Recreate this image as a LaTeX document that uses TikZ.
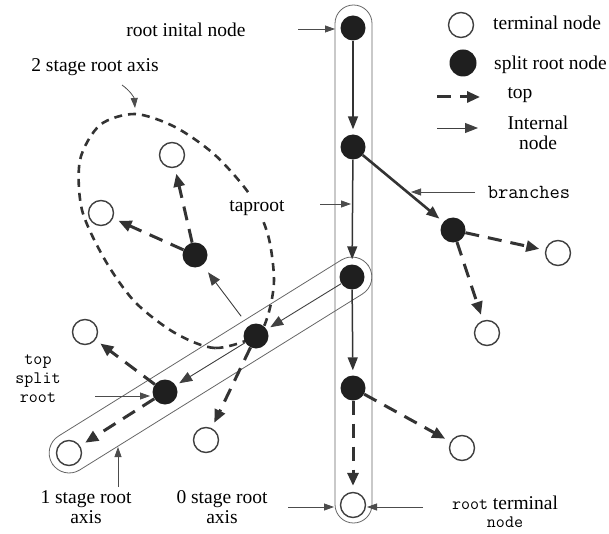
\documentclass[tikz,border=0pt]{standalone}
\usepackage{fontspec}
\setmainfont{Liberation Serif}
\usetikzlibrary{arrows.meta}
\newcommand{\lblfont}{\fontsize{19.5}{20}\selectfont}
\newcommand{\monofont}{\fontsize{17.5}{19}\selectfont\ttfamily}
\begin{document}
\begin{tikzpicture}[x=1pt,y=-1pt]

    \tikzset{
      split/.style={
        circle,
        fill=black!88,
        inner sep=0pt,
        minimum size=25pt,
      },
      terminal/.style={
        circle,
        draw=black!75,
        line width=1.4pt,
        fill=white,
        inner sep=0pt,
        minimum size=25pt,
      },
      capsule/.style={
        draw=black!60,
        line width=0.8pt,
        inner sep=0pt,
      },
      toparrow/.style={
        draw=black!80,
        line width=3pt,
        dash pattern=on 14pt off 9pt,
        -{Triangle[length=13pt,width=11pt]},
        shorten >=6pt,
      },
      axisarrow/.style={
        draw=black!80,
        line width=1.5pt,
        -{Triangle[length=13pt,width=10pt]},
        shorten >=5pt,
      },
      internal/.style={
        draw=black!75,
        line width=0.9pt,
        -{Triangle[length=13pt,width=10pt]},
        shorten >=4pt,
      },
      pointer/.style={
        draw=black!70,
        line width=0.8pt,
        -{Triangle[length=10pt,width=7pt]},
      },
      lbl/.style={font=\lblfont, align=center, inner sep=1pt},
      mlbl/.style={font=\monofont, align=center, inner sep=1pt},
    }
    \useasboundingbox (0,0) rectangle (609,534);

    % the two root axes
    \node[capsule, rounded corners=18.5pt, minimum width=37pt, minimum height=518pt] (axiszero) at (353.5,264) {};
    \node[capsule, rounded corners=20pt, minimum width=373pt, minimum height=40pt, rotate=31.9] (axisone) at (210.5,365) {};

    % 2 stage root axis
    \draw[draw=black!80, line width=2.6pt, dash pattern=on 8pt off 6pt]
      plot[smooth cycle] coordinates {(256,336) (215,348) (175,333) (135,302) (105,260) (82,210)
        (80,160) (100,125) (135,114) (175,127) (215,155) (250,195) (268,235) (274,280) (268,315)};

    % nodes
    \node[split] (n1) at (353,28) {};
    \node[split] (n2) at (353,147) {};
    \node[split] (n3) at (352,277) {};
    \node[split] (n4) at (353,388) {};
    \node[terminal] (n5) at (353,505) {};
    \node[split] (b1) at (453,230) {};
    \node[terminal] (tb1) at (558,253) {};
    \node[terminal] (tb2) at (487,333) {};
    \node[terminal] (t4) at (462,448) {};
    \node[split] (s1) at (256,336) {};
    \node[split] (s2) at (165,392) {};
    \node[terminal] (t1) at (69,453) {};
    \node[terminal] (ts1) at (206,440) {};
    \node[terminal] (ts2) at (85,332) {};
    \node[split] (r) at (195,255) {};
    \node[terminal] (tr1) at (172,155) {};
    \node[terminal] (tr2) at (101,213) {};

    % connections
    \draw[axisarrow] (n1) -- (n2);
    \draw[axisarrow] (n2) -- (n3);
    \draw[axisarrow] (n3) -- (n4);
    \draw[axisarrow, line width=2.6pt] (n2) -- (b1);
    \draw[toparrow] (n4) -- (n5);
    \draw[toparrow] (n4) -- (t4);
    \draw[toparrow] (b1) -- (tb1);
    \draw[toparrow] (b1) -- (tb2);
    \draw[internal] (n3) -- (s1);
    \draw[internal] (s1) -- (s2);
    \draw[internal, shorten <=12pt, shorten >=9pt] (s1) -- (r);
    \draw[toparrow] (s2) -- (t1);
    \draw[toparrow] (s2) -- (ts2);
    \draw[toparrow] (s1) -- (ts1);
    \draw[toparrow] (r) -- (tr1);
    \draw[toparrow] (r) -- (tr2);

    % labels
    \node[lbl] (rootinit) at (186,30) {root inital node};
    \node[lbl] (stagetwo) at (95,67) {2 stage root axis};
    \node[lbl, fill=white, inner sep=4pt] (taproot) at (257,208) {taproot};
    \node[lbl] (stageone) at (86,507) {1 stage root\\axis};
    \node[lbl] (stagezero) at (222,507) {0 stage root\\axis};
    \node[lbl, font=\fontsize{19.5}{18.5}\selectfont] (rootterm) at (505,512) {{\monofont root} terminal\\{\monofont node}};
    \node[mlbl] (topsplit) at (38,379) {top\\split\\root};
    \node[mlbl, font=\fontsize{20}{20}\selectfont\ttfamily] (branches) at (529,192) {branches};

    \coordinate (a1) at (298,29);   \coordinate (b1a) at (335,29);
    \coordinate (a2) at (320,204);  \coordinate (b2a) at (351,204);
    \coordinate (a3) at (475,192);  \coordinate (b3a) at (411,192);
    \coordinate (a4) at (95,396);   \coordinate (b4a) at (150,396);
    \coordinate (a5) at (118,487);  \coordinate (b5a) at (118,447);
    \coordinate (a6) at (288,507);  \coordinate (b6a) at (334,507);
    \coordinate (a7) at (423,507);  \coordinate (b7a) at (367,507);
    \coordinate (a8) at (122,85);   \coordinate (b8a) at (135,108);
    \draw[pointer] (a1) -- (b1a);
    \draw[pointer] (a2) -- (b2a);
    \draw[pointer] (a3) -- (b3a);
    \draw[pointer] (a4) -- (b4a);
    \draw[pointer] (a5) -- (b5a);
    \draw[pointer] (a6) -- (b6a);
    \draw[pointer] (a7) -- (b7a);
    \draw[pointer] (a8) to[bend left=25] (b8a);

    % legend
    \node[terminal] (legterm) at (461,25) {};
    \node[split, minimum size=27pt] (legsplit) at (463,63) {};
    \node[lbl, anchor=west] (legtermtxt) at (492,23) {terminal node};
    \node[lbl, anchor=west] (legsplittxt) at (493,65) {split root node};
    \coordinate (lt1) at (437,97);  \coordinate (lt2) at (480,97);
    \coordinate (li1) at (437,128); \coordinate (li2) at (478,128);
    \draw[toparrow, shorten >=0pt] (lt1) -- (lt2);
    \draw[internal, shorten >=0pt] (li1) -- (li2);
    \node[lbl] (legtop) at (520,95) {top};
    \node[lbl] (leginternal) at (538,133) {Internal\\node};

\end{tikzpicture}
\end{document}
